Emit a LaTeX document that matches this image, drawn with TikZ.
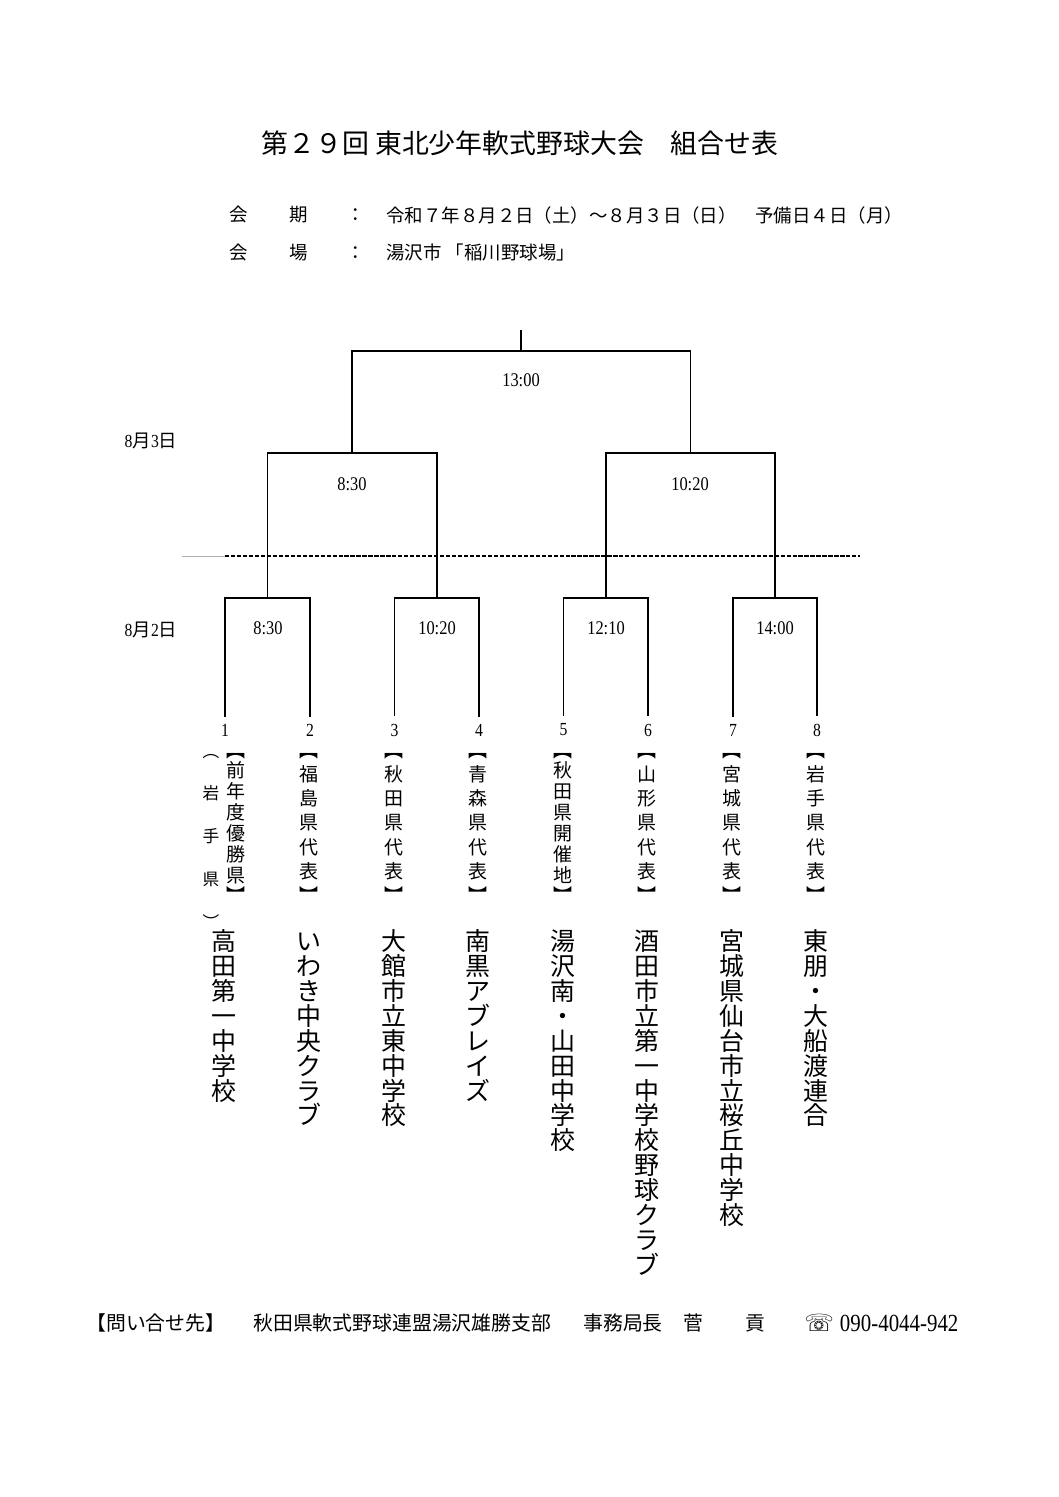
\documentclass[tikz,border=0pt]{standalone}
\usepackage{fontspec}
\setmainfont{Noto Sans CJK JP}
\newfontfamily\numfont[FakeStretch=0.85]{Liberation Serif}
\newfontfamily\symfont{DejaVu Sans}
\usetikzlibrary{positioning}

% vertical (tate) text: one 1em box per character
\newlength\tategap
\newcommand\tatechar[1]{\hbox to 1em{\hss\vrule height .88em depth .12em width 0pt\relax#1\hss}}
\def\tatefirst#1{\tatechar{#1}\tateloop}
\def\tateloop#1{\ifx\relax#1\else\vskip\tategap\tatechar{#1}\expandafter\tateloop\fi}
\newcommand\tate[1]{\vbox{\offinterlineskip\tategap=0pt\expandafter\tatefirst#1\relax}}
\newcommand\tatefill[2]{\vbox to #1{\offinterlineskip\tategap=0pt plus 1fil\expandafter\tatefirst#2\relax}}

\tikzset{
  bracket/.style={line width=1pt, draw=black},
  dayline/.style={line width=0.8pt, dash pattern=on 2.4pt off 1pt},
  titletext/.style={font=\fontsize{15.3}{18}\selectfont},
  infotext/.style={font=\fontsize{10.5}{12}\selectfont},
  daytext/.style={font=\fontsize{10.5}{12}\selectfont},
  timetext/.style={font=\numfont\fontsize{11}{12}\selectfont},
  seedtext/.style={font=\numfont\fontsize{10.5}{12}\selectfont, inner sep=4pt},
  preftext/.style={font=\fontsize{10.8}{10.8}\selectfont, anchor=north},
  hometext/.style={font=\fontsize{9.5}{9.5}\selectfont, anchor=north},
  teamtext/.style={font=\fontsize{14.2}{14.2}\selectfont, anchor=north},
  foottext/.style={font=\fontsize{11.3}{13}\selectfont, anchor=west}
}

\begin{document}
\begin{tikzpicture}[x=0.02cm, y=-0.02cm, every node/.style={inner sep=0pt}]
\useasboundingbox (0,0) rectangle (1058,1497);

% heading
\node[titletext] (title) at (520,143) {第２９回 東北少年軟式野球大会　組合せ表};

\node[infotext] (kai1) at (239,215) {会};
\node[infotext] (ki) at (299,215) {期};
\node[infotext] (col1) at (356,215) {：};
\node[infotext, anchor=west] (dates) at (386,215)
    {令和７年８月２日（土）～８月３日（日）　予備日４日（月）};
\node[infotext] (kai2) at (239,253) {会};
\node[infotext] (jo) at (299,253) {場};
\node[infotext] (col2) at (356,253) {：};
\node[infotext, anchor=west] (venue) at (386,253) {湯沢市 「稲川野球場」};

% day labels and divider
\node[daytext] (day3) at (151,441) {{\numfont 8}月{\numfont 3}日};
\node[daytext] (day2) at (151,630) {{\numfont 8}月{\numfont 2}日};
\coordinate (dl) at (182,556);
\coordinate (dm) at (225,556);
\coordinate (dr) at (860,556);
\draw[gray!60, line width=0.5pt] (dl) -- (dm);
\draw[dayline] (dm) -- (dr);

% seeds
\foreach \i/\x in {1/225,2/310,3/394.5,4/479,5/563.5,6/648,7/733,8/817}
  \node[seedtext] (n\i) at (\x,730) {\i};

% bracket
\coordinate (m1) at (267.5,598);
\coordinate (m2) at (436.75,598);
\coordinate (m3) at (605.75,598);
\coordinate (m4) at (775,598);
\coordinate (s1) at (352,453);
\coordinate (s2) at (690.4,453);
\coordinate (fin) at (521,351);
\coordinate (champ) at (521,330);

\draw[bracket] (n1.north) |- (m1) -| (n2.north);
\draw[bracket] (n3.north) |- (m2) -| (n4.north);
\draw[bracket] (n5.north) |- (m3) -| (n6.north);
\draw[bracket] (n7.north) |- (m4) -| (n8.north);
\draw[bracket] (m1) |- (s1) -| (m2);
\draw[bracket] (m3) |- (s2) -| (m4);
\draw[bracket] (s1) |- (fin) -| (s2);
\draw[bracket] (fin) -- (champ);

% start times
\node[timetext] (g7) at (521,380) {13:00};
\node[timetext] (g5) at (352,484) {8:30};
\node[timetext] (g6) at (690,484) {10:20};
\node[timetext] (g1) at (268,628) {8:30};
\node[timetext] (g2) at (437,628) {10:20};
\node[timetext] (g3) at (606,628) {12:10};
\node[timetext] (g4) at (775,628) {14:00};

% teams
\node[hometext] (h1) at (211,742) {\tatefill{3.72cm}{︵岩手県︶}};
\foreach \i/\px/\tx/\pref/\team in {
    1/236/224/︻前年度優勝県︼/高田第一中学校,
    2/309/309/︻福島県代表︼/いわき中央クラブ,
    3/393.5/393.5/︻秋田県代表︼/大館市立東中学校,
    4/478/478/︻青森県代表︼/南黒アブレイズ,
    5/562.5/562.5/︻秋田県開催地︼/湯沢南・山田中学校,
    6/647/647/︻山形県代表︼/酒田市立第一中学校野球クラブ,
    7/732/732/︻宮城県代表︼/宮城県仙台市立桜丘中学校,
    8/816/816/︻岩手県代表︼/東朋・大船渡連合}{
  \node[preftext] (p\i) at (\px,740) {\tatefill{3.25cm}{\pref}};
  \node[teamtext] (t\i) at (\tx,928) {\tate{\team}};
}

% contact
\node[foottext] (askhead) at (86,1323) {【問い合せ先】};
\node[foottext] (office) at (253,1323) {秋田県軟式野球連盟湯沢雄勝支部};
\node[foottext] (chief) at (583,1323) {事務局長};
\node[foottext] (sur) at (683,1323) {菅};
\node[foottext] (given) at (745,1323) {貢};
\node[foottext] (phone) at (804,1323)
    {{\symfont\fontsize{13.5}{14}\selectfont ☏}\hspace{0.3em}{\numfont\fontsize{14}{15}\selectfont 090-4044-942}};
\end{tikzpicture}
\end{document}
